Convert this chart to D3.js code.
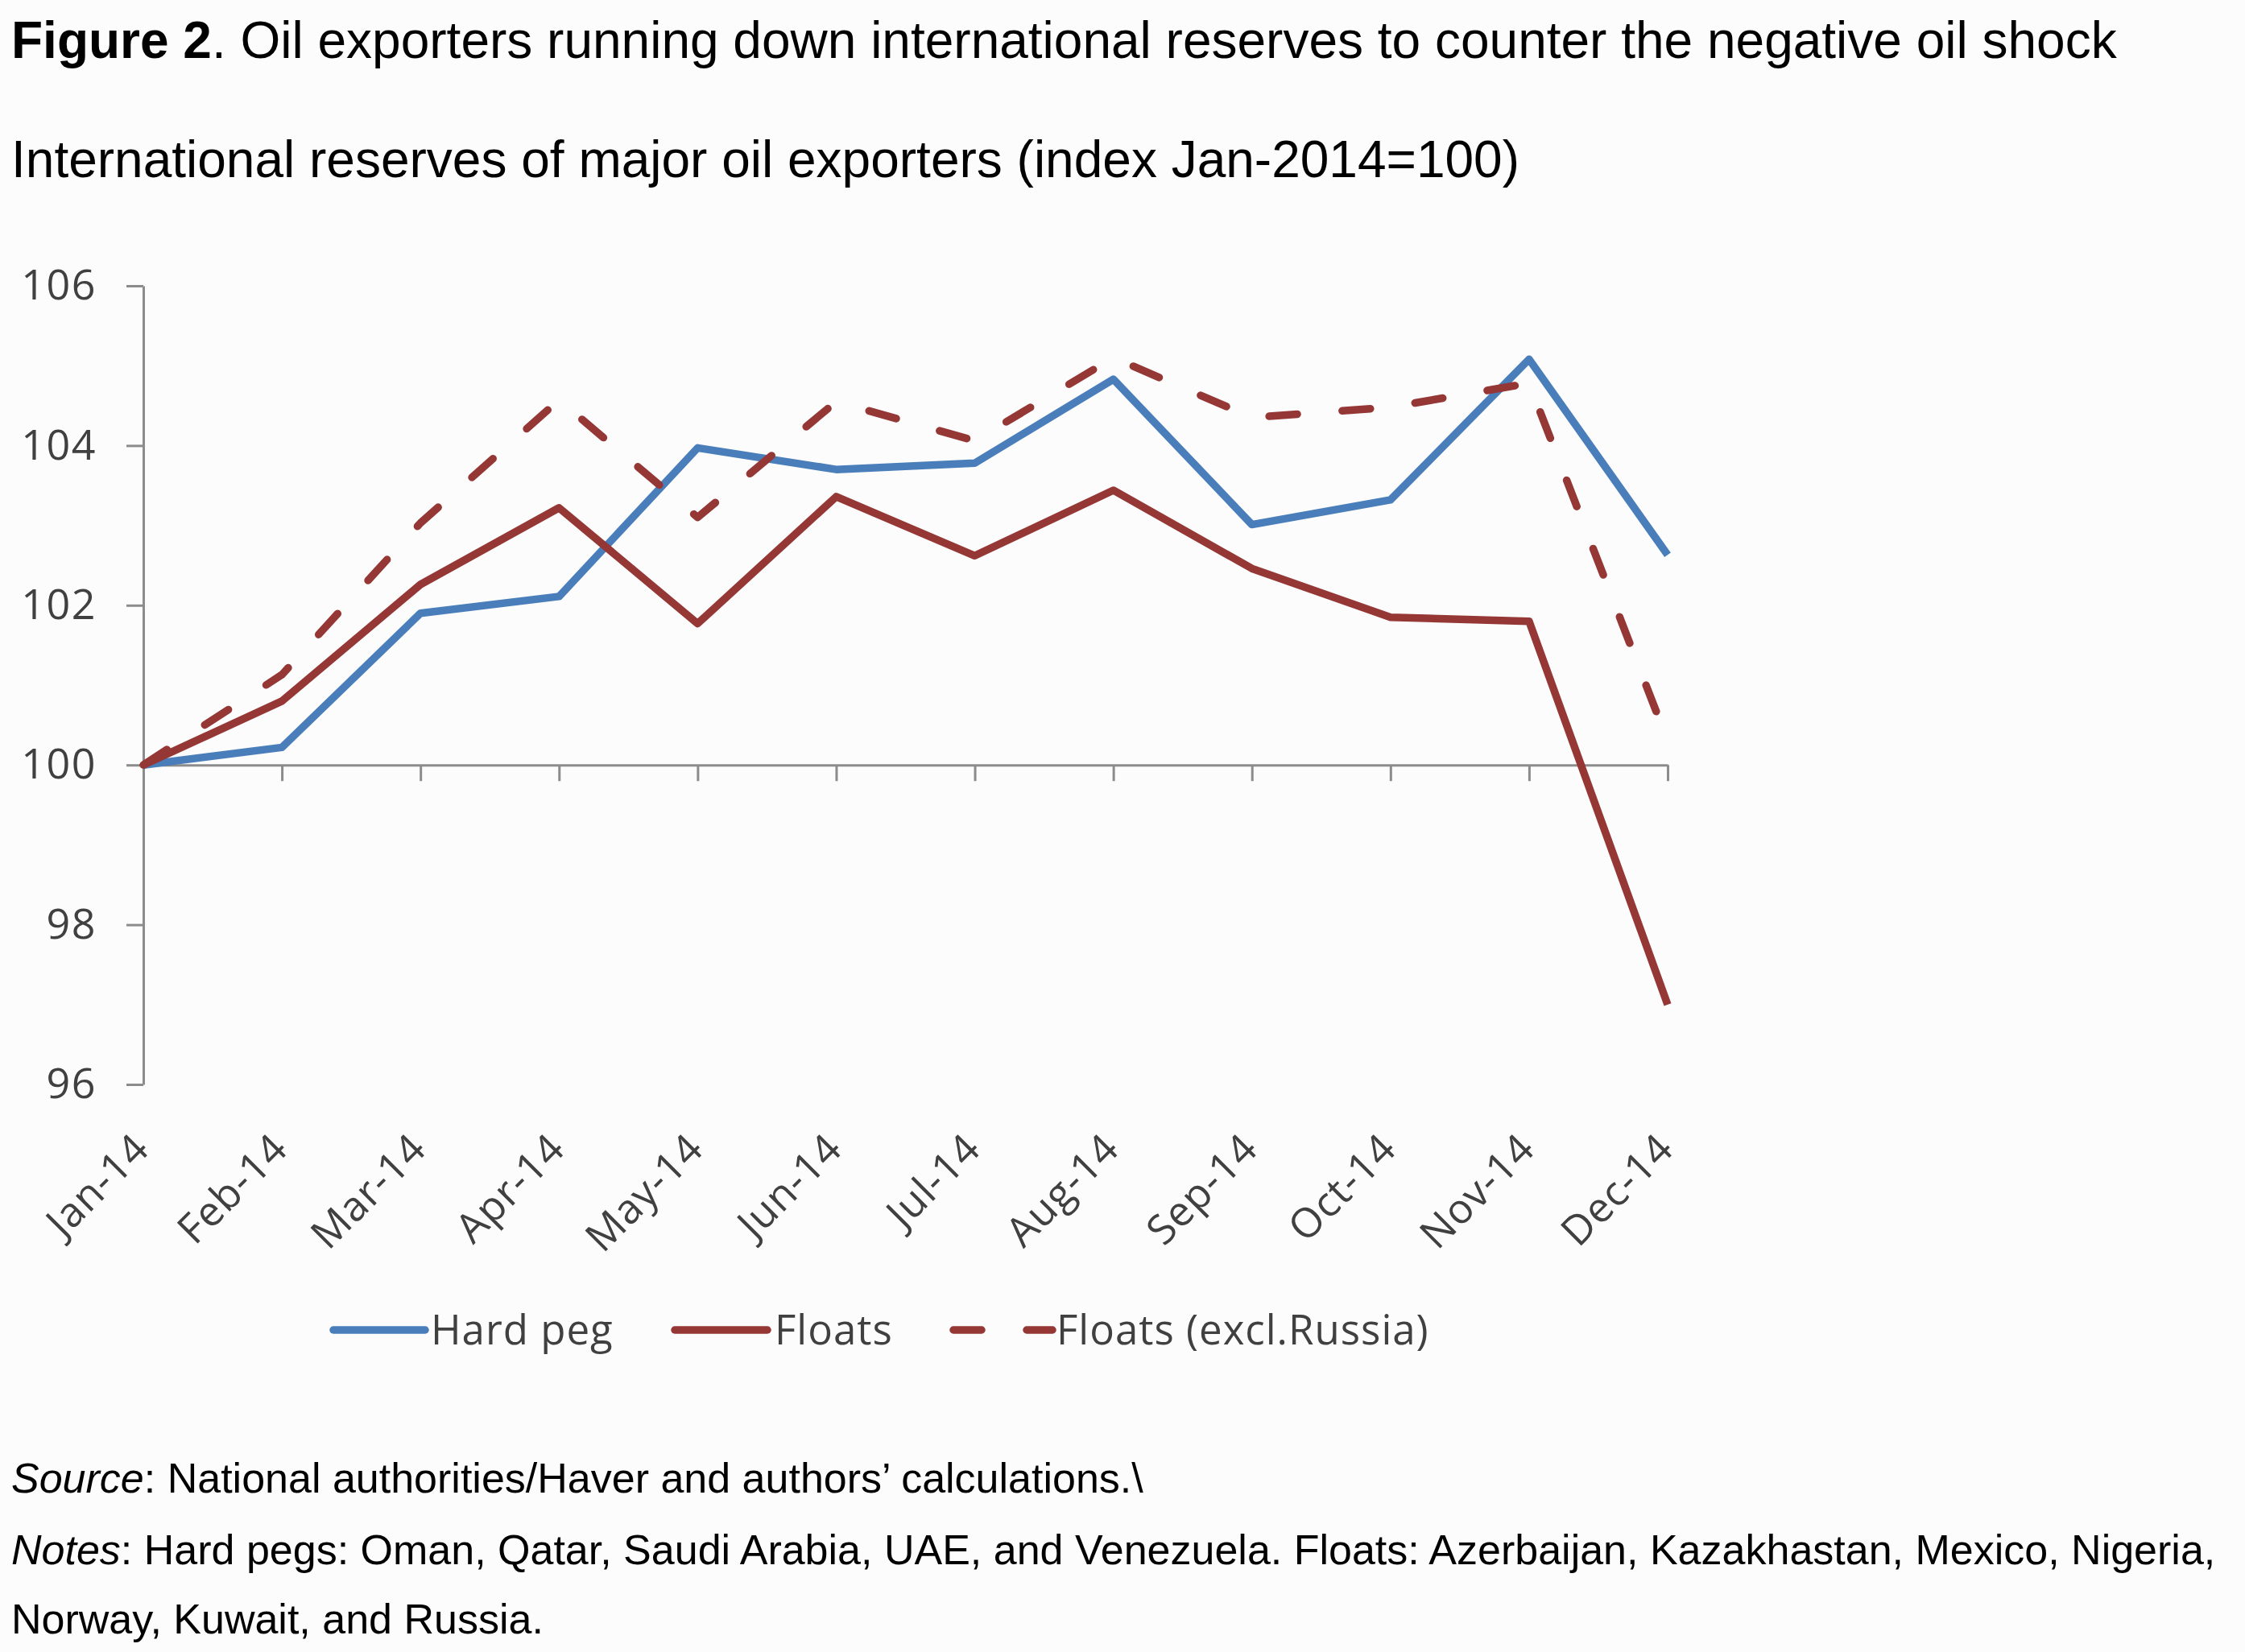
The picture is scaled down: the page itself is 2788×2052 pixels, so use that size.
<!DOCTYPE html>
<html>
<head>
<meta charset="utf-8">
<script src="https://cdn.jsdelivr.net/npm/d3@7"></script>
<style>
  html, body { margin: 0; padding: 0; background: #fcfcfc; }
  svg { display: block; }
</style>
</head>
<body>
<script>
// ---- data ----
const months = ["Jan-14","Feb-14","Mar-14","Apr-14","May-14","Jun-14","Jul-14","Aug-14","Sep-14","Oct-14","Nov-14","Dec-14"];
const hardPeg = [100, 100.22, 101.9, 102.11, 103.97, 103.7, 103.78, 104.83, 103.01, 103.32, 105.08, 102.63];
const floats = [100, 100.8, 102.26, 103.22, 101.77, 103.36, 102.62, 103.44, 102.46, 101.85, 101.8, 97.0];
const floatsExRussia = [100, 101.13, 103.03, 104.57, 103.1, 104.55, 104.06, 105.1, 104.35, 104.48, 104.78, 100.3];
const yTicks = [96, 98, 100, 102, 104, 106];
const seriesNames = ["Hard peg", "Floats", "Floats (excl.Russia)"];

const W = 2788, H = 2052;
const svg = d3.select("body").append("svg").attr("width", W).attr("height", H);
svg.append("rect").attr("width", W).attr("height", H).attr("fill", "#fcfcfc");

const txtFont = "'Liberation Sans', Arial, sans-serif";
const chartFont = "'Open Sans', 'DejaVu Sans', sans-serif";
const axisColor = "#8c8c8c";
const labelColor = "#404040";
const blue = "#4a7ebb", red = "#953735";

// titles
const t1 = svg.append("text").attr("x", 14).attr("y", 72)
  .attr("font-family", txtFont).attr("font-size", 64).attr("fill", "#000");
t1.append("tspan").attr("font-weight", "bold").text("Figure 2");
t1.append("tspan").text(". Oil exporters running down international reserves to counter the negative oil shock");

svg.append("text").attr("x", 14).attr("y", 220)
  .attr("font-family", txtFont).attr("font-size", 64).attr("fill", "#000")
  .text("International reserves of major oil exporters (index Jan-2014=100)");

// scales
const x = d3.scalePoint().domain(months).range([178, 2071]);
const y = d3.scaleLinear().domain([96, 106]).range([1347, 355]);

// y axis
const yAxis = svg.append("g").attr("transform", "translate(178,0)")
  .call(d3.axisLeft(y).tickValues(yTicks).tickSize(21).tickSizeOuter(0).tickPadding(37).tickFormat(d3.format("d")));
yAxis.select(".domain").attr("stroke", axisColor).attr("stroke-width", 3);
yAxis.selectAll(".tick line").attr("stroke", axisColor).attr("stroke-width", 3);
yAxis.selectAll(".tick text").attr("font-family", chartFont).attr("font-size", 52)
  .attr("letter-spacing", 1.5).attr("fill", labelColor);

// x axis at 100
const xAxis = svg.append("g").attr("transform", `translate(0,${y(100)})`)
  .call(d3.axisBottom(x).tickSize(20).tickSizeOuter(0).tickFormat(""));
xAxis.select(".domain").attr("stroke", axisColor).attr("stroke-width", 3);
xAxis.selectAll(".tick line").attr("stroke", axisColor).attr("stroke-width", 3);

// x labels (low position)
svg.append("g").selectAll("text").data(months).join("text")
  .attr("transform", d => `translate(${x(d) + 10},1430) rotate(-45)`)
  .attr("text-anchor", "end")
  .attr("font-family", chartFont).attr("font-size", 51).attr("letter-spacing", 1)
  .attr("fill", labelColor)
  .text(d => d);

// lines
const line = d3.line().x((d, i) => x(months[i])).y(d => y(d));
svg.append("path").datum(hardPeg).attr("d", line)
  .attr("fill", "none").attr("stroke", blue).attr("stroke-width", 9.5).attr("stroke-linejoin", "round");
svg.append("path").datum(floats).attr("d", line)
  .attr("fill", "none").attr("stroke", red).attr("stroke-width", 9.5).attr("stroke-linejoin", "round");
svg.append("path").datum(floatsExRussia).attr("d", line)
  .attr("fill", "none").attr("stroke", red).attr("stroke-width", 9.5).attr("stroke-linejoin", "round")
  .attr("stroke-linecap", "round").attr("stroke-dasharray", "35,56");

// legend
const legend = [
  { name: seriesNames[0], color: blue, dash: null, x0: 414, x1: 528, tx: 535 },
  { name: seriesNames[1], color: red, dash: null, x0: 838, x1: 953, tx: 962 },
  { name: seriesNames[2], color: red, dash: "35,56", x0: 1184, x1: 1307, tx: 1312 }
];
const lg = svg.append("g");
legend.forEach(l => {
  const ln = lg.append("line").attr("x1", l.x0).attr("x2", l.x1).attr("y1", 1652).attr("y2", 1652)
    .attr("stroke", l.color).attr("stroke-width", 9.5).attr("stroke-linecap", "round");
  if (l.dash) ln.attr("stroke-dasharray", l.dash);
  lg.append("text").attr("x", l.tx).attr("y", 1652).attr("dy", "0.35em")
    .attr("font-family", chartFont).attr("font-size", 51).attr("letter-spacing", 1)
    .attr("fill", labelColor).text(l.name);
});

// source & notes
const s1 = svg.append("text").attr("x", 14).attr("y", 1854).attr("font-family", txtFont).attr("font-size", 52);
s1.append("tspan").attr("font-style", "italic").text("Source");
s1.append("tspan").text(": National authorities/Haver and authors\u2019 calculations.\\");
const s2 = svg.append("text").attr("x", 14).attr("y", 1943).attr("font-family", txtFont).attr("font-size", 52);
s2.append("tspan").attr("font-style", "italic").text("Notes");
s2.append("tspan").text(": Hard pegs: Oman, Qatar, Saudi Arabia, UAE, and Venezuela. Floats: Azerbaijan, Kazakhastan, Mexico, Nigeria,");
svg.append("text").attr("x", 14).attr("y", 2029).attr("font-family", txtFont).attr("font-size", 52)
  .text("Norway, Kuwait, and Russia.");
</script>
</body>
</html>
